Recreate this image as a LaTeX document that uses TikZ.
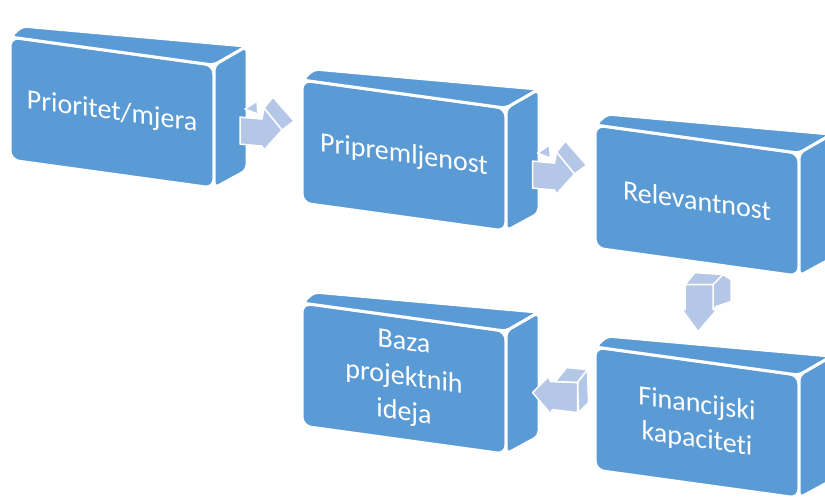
\documentclass[tikz,border=0pt]{standalone}
\usepackage{fontspec}
\setmainfont[Ligatures=NoCommon]{Carlito}
\usepackage{tikz}
\usetikzlibrary{calc}
\definecolor{boxblue}{RGB}{91,155,213}
\definecolor{arrowblue}{RGB}{181,199,231}
\tikzset{
    box/.style={rectangle, rounded corners=9pt, fill=boxblue, draw=white, line width=3pt, minimum width=204pt, minimum height=123pt, inner sep=0pt, outer sep=0pt, text=white, align=center, font=\fontsize{28}{35}\selectfont, anchor=north west, yslant=-0.138},
    face/.style={fill=boxblue, draw=white, line width=3pt, rounded corners=5pt, line join=round},
    arrowpart/.style={fill=arrowblue, draw=white, line width=1.5pt, line join=round}
}

\begin{document}
\begin{tikzpicture}[x=1pt, y=-1pt]
    \clip (0,0) rectangle (825,496);

    % Front faces of the boxes
    \node[box] (b1) at (10,37) {Prioritet/mjera};
    \node[box] (b2) at (302,80) {Pripremljenost};
    \node[box] (b3) at (595,125) {Relevantnost};
    \node[box] (b4) at (595,347) {Financijski\\kapaciteti};
    \node[box] (b5) at (302,303) {Baza\\projektnih\\ideja};

    % Top and side faces
    \foreach \b in {b1,b2,b3,b4,b5} {
        \draw[face] (\b.north west) -- (\b.north east) -- ++(33,-19) -- ($(\b.north west)+(12,-11)$) -- cycle;
        \draw[face] (\b.north east) -- ++(33,-19) -- ($(\b.south east)+(33,-18)$) -- (\b.south east) -- cycle;
    }

    % Arrow positions
    \coordinate (a12) at ($(b1.east)!.5!(b2.west)$);
    \coordinate (a23) at ($(b2.east)!.5!(b3.west)$);
    \coordinate (a34) at ($(b3.south)!.5!(b4.north)$);
    \coordinate (a45) at ($(b4.west)!.5!(b5.east)$);

    % Arrows to the right
    \foreach \a in {a12,a23} {
        \begin{scope}[shift={(\a)}]
            \draw[arrowpart] (-13,-25) -- (-1,-33) -- (0,-20) -- cycle;
            \draw[arrowpart] (6,-26) -- (15,-37) -- (36,-13) -- (24,-4) -- cycle;
            \draw[arrowpart] (-18,-17) -- (4,-15) -- (6,-26) -- (24,-4) -- (6,16) -- (4,12) -- (-18,10) -- cycle;
        \end{scope}
    }

    % Arrow down
    \begin{scope}[shift={(a34)}]
        \draw[arrowpart] (-12,-27) -- (-2,-39) -- (26,-37) -- (16,-27) -- cycle;
        \draw[arrowpart] (16,-27) -- (26,-37) -- (34,-32) -- (34,-10) -- (19,-5) -- (16,-2) -- cycle;
        \draw[arrowpart] (-12,-27) -- (16,-27) -- (16,-2) -- (20,-2) -- (1,20) -- (-15,-2) -- (-12,-2) -- cycle;
    \end{scope}

    % Arrow to the left
    \begin{scope}[shift={(a45)}]
        \draw[arrowpart] (5,-19) -- (16,-33) -- (37,-31) -- (27,-18) -- cycle;
        \draw[arrowpart] (27,-18) -- (37,-31) -- (38,2) -- (28,12) -- cycle;
        \draw[arrowpart] (-18,-8) -- (-2,-24) -- (0,-19) -- (27,-18) -- (27,12) -- (2,9) -- (0,13) -- cycle;
    \end{scope}
\end{tikzpicture}
\end{document}
